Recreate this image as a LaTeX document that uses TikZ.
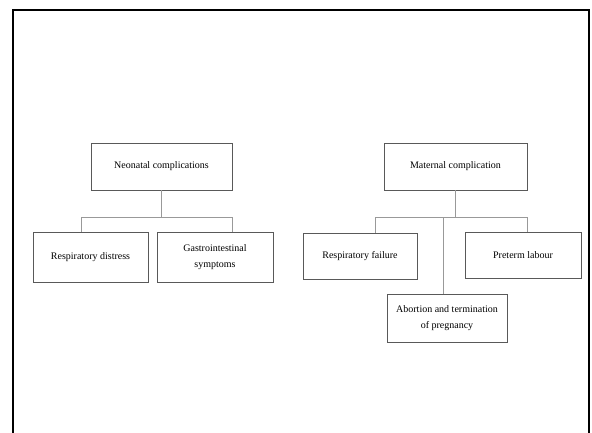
\documentclass[tikz,border=0pt]{standalone}
\usepackage{fontspec}
\setmainfont{Liberation Serif}
\begin{document}
\begin{tikzpicture}[x=1pt,y=1pt,
  box/.style={draw=black!65, line width=0.6pt, align=center, inner sep=2pt,
    font=\fontsize{10}{16}\selectfont},
  conn/.style={draw=black!40, line width=1pt}]
\useasboundingbox (0,0) rectangle (592,432);
\fill[white] (0,0) rectangle (592,432);
\draw[line width=1.6pt] (13,-5) -- (13,422) -- (589,422) -- (589,-5);
% Neonatal
\node[box, minimum width=141pt, minimum height=47pt] (neo) at (161.5,265.5) {Neonatal complications};
\node[box, minimum width=115pt, minimum height=50pt] (rd) at (90.5,175) {Respiratory distress};
\node[box, minimum width=116pt, minimum height=50pt] (ga) at (215,175) {Gastrointestinal\\symptoms};
\coordinate (b1l) at (81,215);
\coordinate (b1r) at (232,215);
\draw[conn] (neo.south) -- (neo.south |- b1l);
\draw[conn] (b1l) -- (b1r);
\draw[conn] (b1l) -- (b1l |- rd.north);
\draw[conn] (b1r) -- (b1r |- ga.north);
% Maternal
\node[box, minimum width=143pt, minimum height=47pt] (mat) at (455.5,265.5) {Maternal complication};
\node[box, minimum width=114pt, minimum height=46pt] (rf) at (360,176) {Respiratory failure};
\node[box, minimum width=116pt, minimum height=46pt] (pl) at (523,177) {Preterm labour};
\node[box, minimum width=120pt, minimum height=48pt] (ab) at (447,114) {Abortion and termination\\of pregnancy};
\coordinate (b2l) at (375,215);
\coordinate (b2m) at (443,215);
\coordinate (b2r) at (527,215);
\draw[conn] (mat.south) -- (mat.south |- b2l);
\draw[conn] (b2l) -- (b2r);
\draw[conn] (b2l) -- (b2l |- rf.north);
\draw[conn] (b2r) -- (b2r |- pl.north);
\draw[conn] (b2m) -- (b2m |- ab.north);
\end{tikzpicture}
\end{document}
